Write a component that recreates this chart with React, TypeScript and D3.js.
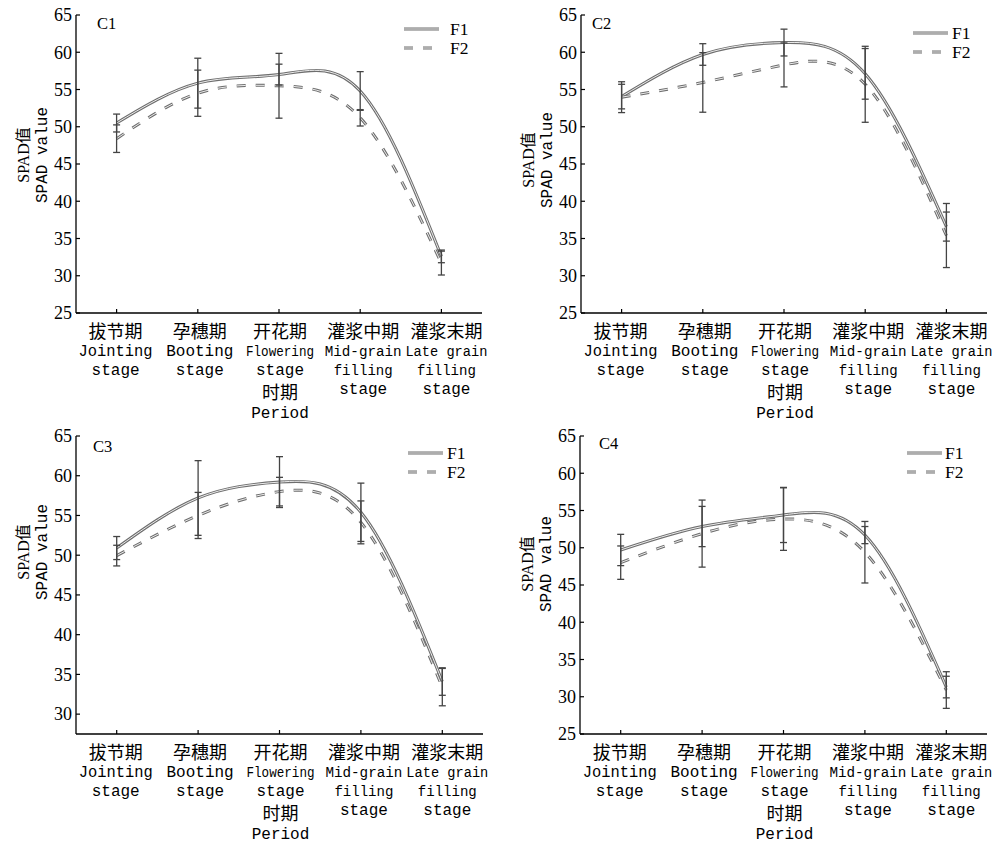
import React from "react";
import * as d3 from "d3";

// ---------- data ----------
const stagesCn = ["拔节期", "孕穗期", "开花期", "灌浆中期", "灌浆末期"];
const stagesEn = [
  ["Jointing", "stage"],
  ["Booting", "stage"],
  ["Flowering", "stage"],
  ["Mid-grain", "filling", "stage"],
  ["Late grain", "filling", "stage"],
];
const seriesNames = ["F1", "F2"];
const panelNames = ["C1", "C2", "C3", "C4"];
const yTicksFull = [25, 30, 35, 40, 45, 50, 55, 60, 65];
const yTicksC3 = [30, 35, 40, 45, 50, 55, 60, 65];

const C1_F1 = [50.5, 55.85, 57.0, 54.8, 32.6];
const C1_F1_sd = [1.2, 3.35, 1.4, 2.6, 0.85];
const C1_F2 = [48.4, 54.5, 55.5, 51.2, 31.7];
const C1_F2_sd = [1.85, 3.1, 4.35, 1.1, 1.6];

const C2_F1 = [54.05, 59.7, 61.3, 57.1, 36.6];
const C2_F1_sd = [1.65, 1.45, 1.8, 3.4, 1.95];
const C2_F2 = [53.97, 55.95, 58.3, 55.7, 35.4];
const C2_F2_sd = [2.07, 4.0, 2.95, 5.1, 4.3];

const C3_F1 = [50.9, 57.2, 59.2, 55.4, 34.1];
const C3_F1_sd = [1.45, 4.7, 3.2, 3.67, 1.73];
const C3_F2 = [49.95, 55.0, 58.0, 54.13, 33.4];
const C3_F2_sd = [1.3, 2.9, 1.8, 2.7, 2.35];

const C4_F1 = [49.7, 52.85, 54.4, 51.7, 31.3];
const C4_F1_sd = [2.1, 2.7, 3.7, 1.15, 1.45];
const C4_F2 = [48.0, 51.9, 53.85, 49.4, 30.9];
const C4_F2_sd = [2.24, 4.5, 4.2, 4.13, 2.46];

const yTitleCn = "SPAD值";
const yTitleEn = "SPAD value";
const xTitleCn = "时期";
const xTitleEn = "Period";

// ---------- layout ----------
const panels = [
  { name: panelNames[0], f1: C1_F1, f1sd: C1_F1_sd, f2: C1_F2, f2sd: C1_F2_sd, ticks: yTicksFull, yMin: 25,
    left: 76, right: 482, top: 15, bottom: 313, legX: 404, legY: 29, legTX: 450, labX: 97, labY: 29, yLabY: 155 },
  { name: panelNames[1], f1: C2_F1, f1sd: C2_F1_sd, f2: C2_F2, f2sd: C2_F2_sd, ticks: yTicksFull, yMin: 25,
    left: 581, right: 987, top: 15, bottom: 313, legX: 913, legY: 33, legTX: 952, labX: 592, labY: 29, yLabY: 160 },
  { name: panelNames[2], f1: C3_F1, f1sd: C3_F1_sd, f2: C3_F2, f2sd: C3_F2_sd, ticks: yTicksC3, yMin: 27.5,
    left: 76, right: 483, top: 436, bottom: 734, legX: 408, legY: 453, legTX: 447, labX: 93, labY: 452, yLabY: 552 },
  { name: panelNames[3], f1: C4_F1, f1sd: C4_F1_sd, f2: C4_F2, f2sd: C4_F2_sd, ticks: yTicksFull, yMin: 25,
    left: 580, right: 987, top: 436, bottom: 734, legX: 907, legY: 453, legTX: 945, labX: 599, labY: 449, yLabY: 564 },
];
const labelDx = [-1, 2, 1, 3, 5];

const SERIF = "'Liberation Serif', 'Times New Roman', serif";
const MONO = "'Liberation Mono', 'DejaVu Sans Mono', monospace";
const CJK = "'Liberation Serif', 'Noto Sans CJK SC', serif";
// condensed words: [font size, fitted length]
const fitLen: Record<string, [number, number]> = {
  Jointing: [16, 74],
  Flowering: [14.5, 68],
  "Late grain": [14, 82],
  "Mid-grain": [14.5, 77],
  filling: [14.5, 59],
};

function SeriesLine({ d, dashed }: { d: string; dashed: boolean }) {
  const dash = dashed ? "9,10" : undefined;
  return (
    <g fill="none">
      <path d={d} stroke="#6e6e6e" strokeWidth={3} strokeDasharray={dash} />
      <path d={d} stroke="#ececec" strokeWidth={1} strokeDasharray={dash} />
    </g>
  );
}

function Panel({ p }: { p: (typeof panels)[number] }) {
  const x = d3.scalePoint<string>().domain(stagesCn).range([p.left, p.right]).padding(0.5);
  const y = d3.scaleLinear().domain([p.yMin, 65]).range([p.bottom, p.top]);
  const line = d3
    .line<number>()
    .x((_, i) => x(stagesCn[i]) as number)
    .y((v) => y(v))
    .curve(d3.curveNatural);
  const series = [
    { vals: p.f1, sd: p.f1sd, dashed: false },
    { vals: p.f2, sd: p.f2sd, dashed: true },
  ];
  const baseY = p.bottom;
  const yLabX = p.left;
  const flowerX = (x(stagesCn[2]) as number) + 1;
  return (
    <g>
      {/* lines */}
      {series.map((s, k) => (
        <SeriesLine key={k} d={line(s.vals) || ""} dashed={s.dashed} />
      ))}
      {/* error bars */}
      {series.map((s, k) =>
        s.vals.map((v, i) => {
          const cx = x(stagesCn[i]) as number;
          const hi = y(v + s.sd[i]);
          const lo = y(v - s.sd[i]);
          return (
            <g key={`${k}-${i}`} stroke="#444" strokeWidth={1.3}>
              <line x1={cx} x2={cx} y1={hi} y2={lo} />
              <line x1={cx - 3.5} x2={cx + 3.5} y1={hi} y2={hi} />
              <line x1={cx - 3.5} x2={cx + 3.5} y1={lo} y2={lo} />
            </g>
          );
        })
      )}
      {/* axes */}
      <line x1={p.left} x2={p.left} y1={p.top} y2={p.bottom} stroke="#000" strokeWidth={1.3} />
      <line x1={p.left} x2={p.right} y1={p.bottom} y2={p.bottom} stroke="#000" strokeWidth={1.3} />
      {p.ticks.map((t) => (
        <g key={t}>
          <line x1={p.left} x2={p.left + 4} y1={y(t)} y2={y(t)} stroke="#000" strokeWidth={1.2} />
          <text x={p.left - 4} y={y(t)} dy="0.35em" textAnchor="end" fontFamily={SERIF} fontSize={18} fill="#000">
            {t}
          </text>
        </g>
      ))}
      {stagesCn.map((c, i) => {
        const cx = x(c) as number;
        const tx = cx + labelDx[i];
        return (
          <g key={c}>
            <line x1={cx} x2={cx} y1={baseY} y2={baseY - 4} stroke="#000" strokeWidth={1.2} />
            <text x={tx} y={baseY + 25} textAnchor="middle" fontFamily={CJK} fontSize={18} fill="#000">
              {c}
            </text>
            {stagesEn[i].map((w, j) => {
              const fit = fitLen[w];
              return (
                <text
                  key={j}
                  x={tx}
                  y={baseY + 43 + j * 18.8}
                  textAnchor="middle"
                  fontFamily={MONO}
                  fontSize={fit ? fit[0] : 16}
                  fill="#000"
                  {...(fit ? { textLength: fit[1], lengthAdjust: "spacingAndGlyphs" } : {})}
                >
                  {w}
                </text>
              );
            })}
          </g>
        );
      })}
      {/* x title */}
      <text x={flowerX} y={baseY + 86} textAnchor="middle" fontFamily={CJK} fontSize={18} fill="#000">
        {xTitleCn}
      </text>
      <text x={flowerX} y={baseY + 105} textAnchor="middle" fontFamily={MONO} fontSize={16} fill="#000">
        {xTitleEn}
      </text>
      {/* y title */}
      <text
        transform={`translate(${yLabX - 47},${p.yLabY}) rotate(-90)`}
        textAnchor="middle"
        fontFamily={CJK}
        fontSize={16}
        fill="#000"
      >
        {yTitleCn}
      </text>
      <text
        transform={`translate(${yLabX - 29},${p.yLabY}) rotate(-90)`}
        textAnchor="middle"
        fontFamily={MONO}
        fontSize={16}
        fill="#000"
      >
        {yTitleEn}
      </text>
      {/* panel label */}
      <text x={p.labX} y={p.labY} fontFamily={SERIF} fontSize={16.5} fill="#000">
        {p.name}
      </text>
      {/* legend */}
      {seriesNames.map((n, k) => {
        const ly = p.legY + k * 19;
        const d = `M${p.legX},${ly}L${p.legX + 35},${ly}`;
        return (
          <g key={n}>
            <SeriesLine d={d} dashed={k === 1} />
            <text x={p.legTX} y={ly} dy="0.35em" fontFamily={SERIF} fontSize={17.5} fill="#000">
              {n}
            </text>
          </g>
        );
      })}
    </g>
  );
}

export default function App() {
  return (
    <div style={{ position: "absolute", left: 0, top: 0, background: "#fff" }}>
      <svg width={1000} height={851} viewBox="0 0 1000 851" style={{ display: "block", background: "#fff" }}>
        {panels.map((p) => (
          <Panel key={p.name} p={p} />
        ))}
      </svg>
    </div>
  );
}
